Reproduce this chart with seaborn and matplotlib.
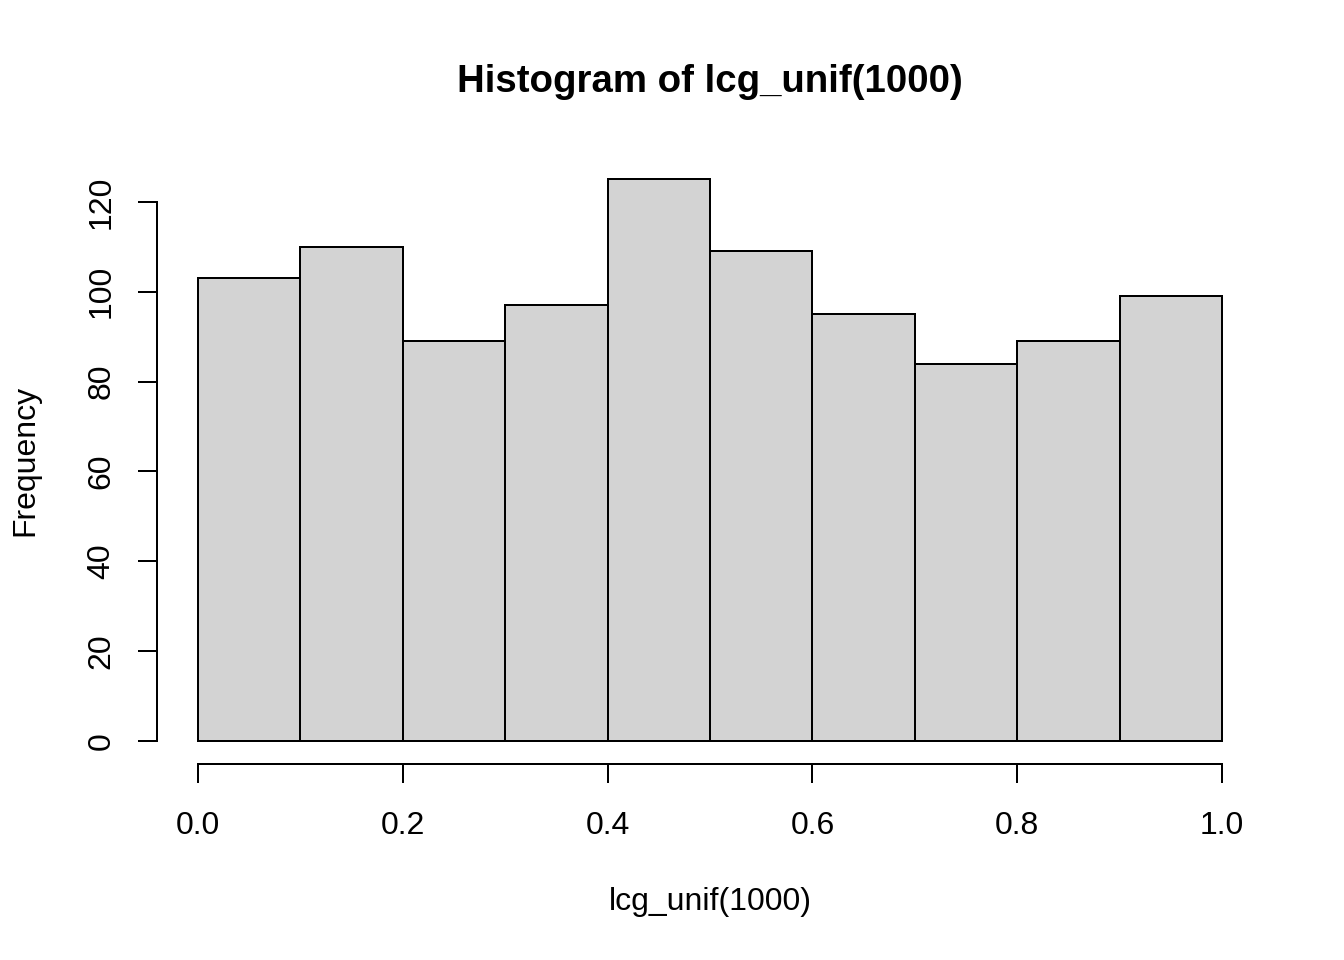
import numpy as np
import matplotlib
matplotlib.use("Agg")
import matplotlib.pyplot as plt
import seaborn as sns

bin_edges = [0.0, 0.1, 0.2, 0.3, 0.4, 0.5, 0.6, 0.7, 0.8, 0.9, 1.0]
counts = [103, 110, 89, 97, 125, 109, 95, 84, 89, 99]
x_ticks = [0.0, 0.2, 0.4, 0.6, 0.8, 1.0]
x_tick_labels = ["0.0", "0.2", "0.4", "0.6", "0.8", "1.0"]
y_ticks = [0, 20, 40, 60, 80, 100, 120]

sns.set_style("white")
plt.rcParams['font.family'] = ['Liberation Sans', 'DejaVu Sans']
plt.rcParams['text.color'] = 'black'
plt.rcParams['axes.labelcolor'] = 'black'
plt.rcParams['xtick.color'] = 'black'
plt.rcParams['ytick.color'] = 'black'

fig = plt.figure(figsize=(7, 5), dpi=192)
ax = fig.add_axes([157/1344, 1-763.5/960, 1106/1344, 606.5/960])

centers = [(a + b) / 2 for a, b in zip(bin_edges[:-1], bin_edges[1:])]
sns.histplot(x=centers, weights=counts, bins=bin_edges, ax=ax,
             color="#D3D3D3", edgecolor="black", linewidth=0.75, alpha=1)

ax.set_xlim(-0.04, 1.04)
ax.set_ylim(-5, 130)
for s in ["top", "right"]:
    ax.spines[s].set_visible(False)
ax.spines["left"].set_bounds(0, 120)
ax.spines["bottom"].set_bounds(0, 1)
for s in ["left", "bottom"]:
    ax.spines[s].set_linewidth(0.75)
    ax.spines[s].set_color("black")

ax.set_xticks(x_ticks)
ax.set_xticklabels(x_tick_labels)
ax.set_yticks(y_ticks)
ax.set_yticklabels([str(v) for v in y_ticks], rotation=90, va="center")
ax.tick_params(axis="both", which="major", direction="out", length=7.2,
               width=0.75, color="black", labelsize=12, labelcolor="black",
               left=True, bottom=True)
ax.tick_params(axis="x", pad=10.5)
ax.tick_params(axis="y", pad=8)

ax.set_xlabel("lcg_unif(1000)", fontsize=12, va="center", color="black")
ax.xaxis.set_label_coords(0.5, (763.5 - 902) / 606.5)
ax.set_ylabel("Frequency", fontsize=12, va="center", color="black")
ax.yaxis.set_label_coords((25 - 157) / 1106, 0.5)

fig.text(710/1344, 1 - 82/960, "Histogram of lcg_unif(1000)", fontsize=14.4,
         fontweight="bold", ha="center", va="center", color="black")

fig.savefig("out.png", dpi=192, facecolor="white")
